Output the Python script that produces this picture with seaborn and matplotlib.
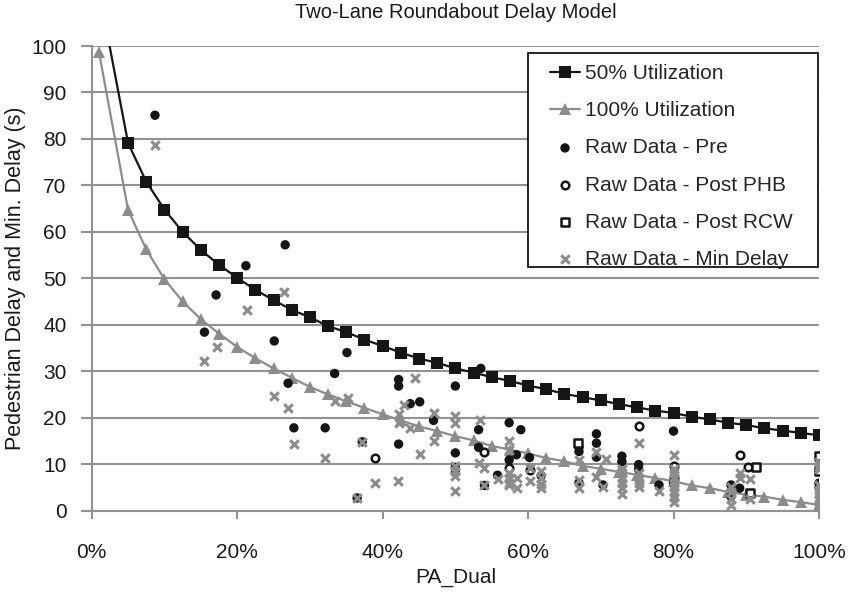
import matplotlib
matplotlib.use('Agg')
import matplotlib.pyplot as plt
import seaborn as sns
from matplotlib.patches import Rectangle
from matplotlib.ticker import PercentFormatter, MultipleLocator

sns.set_theme(style='white')
plt.rcParams['font.family'] = ['Liberation Sans', 'DejaVu Sans']

# Model curves (PA_Dual in %, delay in s)
pa_model = [1, 5, 7.5, 10, 12.5, 15, 17.5, 20, 22.5, 25, 27.5, 30, 32.5, 35, 37.5, 40,
            42.5, 45, 47.5, 50, 52.5, 55, 57.5, 60, 62.5, 65, 67.5, 70, 72.5, 75, 77.5,
            80, 82.5, 85, 87.5, 90, 92.5, 95, 97.5, 100]
delay_50 = [112, 79.1, 70.8, 64.8, 60.0, 56.1, 52.9, 50.1, 47.5, 45.3, 43.2, 41.6, 39.7,
            38.4, 36.8, 35.4, 34.0, 32.7, 31.8, 30.6, 29.7, 28.7, 27.9, 26.9, 26.1, 25.1,
            24.4, 23.7, 22.9, 22.2, 21.5, 21.0, 20.2, 19.6, 18.9, 18.4, 17.7, 17.2, 16.7, 16.2]
delay_100 = [98.7, 64.7, 56.2, 49.8, 45.0, 41.2, 38.1, 35.2, 32.8, 30.6, 28.6, 26.6, 25.0,
             23.5, 22.1, 20.7, 19.4, 18.1, 17.1, 16.0, 15.1, 13.9, 13.1, 12.3, 11.3, 10.6,
             9.6, 9.0, 8.3, 7.7, 7.0, 6.3, 5.4, 4.8, 4.0, 3.4, 3.0, 2.3, 1.8, 1.2]

# Raw data - Pre
pre_pa = [8.7, 26.6, 21.2, 17.1, 15.5, 25.1, 35.1, 33.4, 27.0, 27.8, 32.1, 37.2, 36.5,
          42.2, 42.2, 43.8, 45.1, 42.2, 47.0, 50.0, 53.5, 50.0, 50.0, 50.0, 53.2, 53.2,
          54.0, 55.8, 57.4, 59.0, 57.4, 58.4, 60.2, 61.8, 67.0, 67.0, 67.0, 69.4, 69.4,
          69.4, 70.3, 72.9, 72.9, 75.2, 75.2, 78.0, 80.0, 80.0, 87.9, 87.9, 89.1, 100, 100]
pre_delay = [85.1, 57.2, 52.7, 46.4, 38.4, 36.5, 34.0, 29.5, 27.4, 17.8, 17.8, 14.8, 2.7,
             28.2, 26.8, 23.0, 23.4, 14.3, 19.4, 26.8, 30.6, 12.4, 9.3, 8.2, 17.4, 13.6,
             5.4, 7.6, 18.9, 17.4, 10.9, 12.0, 11.4, 7.5, 12.7, 13.6, 6.0, 16.5, 14.5,
             11.5, 5.5, 11.7, 10.5, 9.9, 8.9, 5.5, 17.1, 6.0, 5.5, 3.0, 4.8, 5.9, 5.0]

# Raw data - Post PHB
phb_pa = [39.0, 54.0, 57.4, 60.2, 75.2, 80.0, 89.1, 90.3, 80.0]
phb_delay = [11.2, 12.7, 9.1, 8.8, 18.1, 9.5, 12.0, 9.3, 7.0]

# Raw data - Post RCW
rcw_pa = [66.9, 91.3, 90.5, 100, 100]
rcw_delay = [14.5, 9.3, 3.7, 11.7, 8.5]

# Raw data - Min Delay
min_pa = [8.7, 21.3, 26.5, 17.2, 15.5, 25.1, 27.0, 27.8, 32.1, 33.4, 35.2, 37.2, 36.5,
          39.0, 42.1, 44.5, 42.9, 42.2, 42.2, 43.8, 45.1, 47.0, 47.0, 50.0, 50.0, 50.0,
          50.0, 50.0, 50.0, 53.4, 53.2, 54.0, 54.0, 55.8, 57.4, 57.4, 57.4, 57.4, 57.4,
          57.4, 58.5, 58.5, 60.2, 60.2, 61.8, 61.8, 61.8, 61.8, 67.0, 67.0, 67.0, 69.4,
          69.4, 70.7, 70.3, 72.9, 72.9, 72.9, 72.9, 72.9, 72.9, 75.2, 75.2, 75.2, 75.2,
          75.2, 78.0, 80.0, 80.0, 80.0, 80.0, 80.0, 80.0, 80.0, 80.0, 80.0, 87.9, 87.9,
          87.9, 87.9, 89.1, 89.1, 90.5, 90.5, 100, 100, 100, 100, 100, 100, 100, 100, 100]
min_delay = [78.6, 43.1, 47.1, 35.1, 32.2, 24.6, 22.1, 14.3, 11.3, 23.5, 24.3, 14.8, 2.7,
             6.0, 6.3, 28.6, 22.8, 20.7, 18.9, 17.8, 12.2, 21.0, 14.9, 20.3, 18.9, 9.5,
             8.5, 7.5, 4.3, 19.4, 10.2, 9.1, 5.4, 6.8, 14.9, 13.1, 8.0, 7.0, 6.0,
             5.4, 7.0, 4.8, 9.1, 6.3, 8.4, 7.0, 5.8, 4.8, 10.9, 6.6, 4.8, 12.7,
             7.3, 11.0, 5.0, 9.0, 8.0, 7.0, 6.0, 4.8, 3.5, 14.5, 8.0, 7.0, 6.0,
             5.0, 4.1, 12.0, 9.0, 8.0, 7.0, 6.0, 5.0, 4.0, 3.0, 1.9, 5.0, 4.0,
             2.5, 1.2, 8.0, 7.0, 6.8, 2.4, 10.5, 9.5, 9.0, 5.5, 4.5, 3.5, 2.5, 1.5, 0.5]

BLACK = '#151515'
GRAY = '#8c8c8c'
GRID = '#8f9398'

fig = plt.figure(figsize=(8.5, 5.93), dpi=100)
ax = fig.add_axes([0.1079, 0.1391, 0.8556, 0.7833])

sns.lineplot(x=pa_model, y=delay_50, ax=ax, color=BLACK, linewidth=1.6, marker='s',
             markersize=8.5, markeredgewidth=0, label='50% Utilization', zorder=3)
sns.lineplot(x=pa_model, y=delay_100, ax=ax, color=GRAY, linewidth=1.6, marker='^',
             markersize=8.5, markeredgewidth=0, label='100% Utilization', zorder=3)
sns.scatterplot(x=pre_pa, y=pre_delay, ax=ax, color=BLACK, marker='o', s=46,
                edgecolor='none', label='Raw Data - Pre', zorder=4)
sns.scatterplot(x=phb_pa, y=phb_delay, ax=ax, marker='o', s=30, facecolor='white',
                edgecolor=BLACK, linewidth=1.8, label='Raw Data - Post PHB', zorder=5)
sns.scatterplot(x=rcw_pa, y=rcw_delay, ax=ax, marker='s', s=30, facecolor='white',
                edgecolor=BLACK, linewidth=1.8, label='Raw Data - Post RCW', zorder=5)
sns.scatterplot(x=min_pa, y=min_delay, ax=ax, color=GRAY, marker='x', s=38,
                linewidth=2.2, label='Raw Data - Min Delay', zorder=6)

ax.set_xlim(0, 100)
ax.set_ylim(0, 100)
ax.xaxis.set_major_locator(MultipleLocator(20))
ax.xaxis.set_major_formatter(PercentFormatter(100, decimals=0))
ax.yaxis.set_major_locator(MultipleLocator(10))
ax.yaxis.grid(True, color=GRID, linewidth=1.5)
ax.xaxis.grid(False)
ax.set_axisbelow(True)

for side in ['top', 'right']:
    ax.spines[side].set_visible(False)
for side in ['left', 'bottom']:
    ax.spines[side].set_color(GRID)
    ax.spines[side].set_linewidth(1.5)

ax.tick_params(axis='x', bottom=True, direction='out', length=6, width=1.5,
               color=GRID, pad=17.5, labelsize=15, labelcolor='#1a1a1a')
ax.tick_params(axis='y', left=True, direction='out', length=8, width=1.5,
               color=GRID, pad=10, labelsize=15, labelcolor='#1a1a1a')

ax.set_title('Two-Lane Roundabout Delay Model', fontsize=14.5, pad=20, color='#1a1a1a')
ax.set_xlabel('PA_Dual', fontsize=15, labelpad=4, color='#1a1a1a')
ax.set_ylabel('Pedestrian Delay and Min. Delay (s)', fontsize=15.5, color='#1a1a1a')
ax.yaxis.set_label_coords(-0.09, 0.5)

# legend box drawn separately so its padding matches the original
ax.add_patch(Rectangle((0.600, 0.524), 0.3986, 0.461, transform=ax.transAxes,
                       facecolor='white', edgecolor='black', linewidth=1.2,
                       zorder=7, clip_on=False))
leg = ax.legend(loc='upper left', bbox_to_anchor=(0.630, 0.961), fontsize=15,
                frameon=False, handlelength=1.45, handletextpad=0.25,
                labelspacing=0.87, borderpad=0, borderaxespad=0)
leg.set_zorder(8)

fig.savefig('out.png', dpi=100)
